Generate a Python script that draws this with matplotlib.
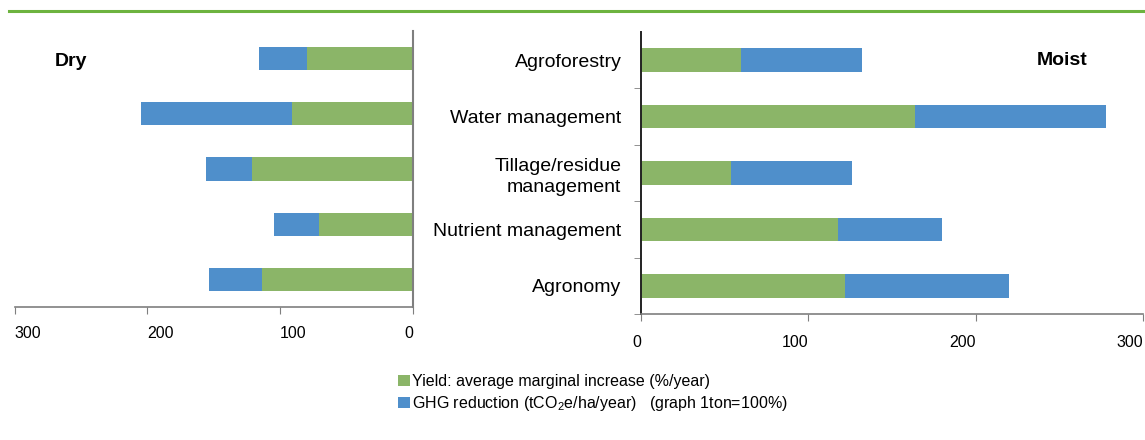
import numpy as np
import matplotlib
matplotlib.use("Agg")
import matplotlib.pyplot as plt
from matplotlib.patches import Patch
from matplotlib.lines import Line2D

plt.rcParams['font.family'] = ['Liberation Sans', 'DejaVu Sans']
plt.rcParams['mathtext.fontset'] = 'custom'
plt.rcParams['mathtext.rm'] = 'Liberation Sans'
plt.rcParams['mathtext.it'] = 'Liberation Sans:italic'

# data, top to bottom
practices = ['Agroforestry', 'Water management', 'Tillage/residue\nmanagement',
             'Nutrient management', 'Agronomy']
dry_yield = [80, 91, 121, 71, 114]
dry_ghg = [36, 114, 35, 34, 40]
moist_yield = [60, 164, 54, 118, 122]
moist_ghg = [72, 114, 72, 62, 98]
xticks = [0, 100, 200, 300]

green = '#8BB568'
blue = '#4F8FCB'
spine_c = '#7f7f7f'

fig = plt.figure(figsize=(11.45, 4.4), dpi=100)

# green rule along the top
fig.add_artist(Line2D([9 / 1145, 1.0], [1 - 11.5 / 440, 1 - 11.5 / 440],
                      color='#6DB33F', lw=2.2, transform=fig.transFigure))

y = np.arange(len(practices))
bh = 0.42

# dry panel (mirrored)
axl = fig.add_axes((14.7 / 1145, 1 - 307 / 440, 398.3 / 1145, 276 / 440))
axl.barh(y, dry_yield, height=bh, color=green)
axl.barh(y, dry_ghg, left=dry_yield, height=bh, color=blue)
axl.set_xlim(300, 0)
axl.set_ylim(4.5, -0.5)
axl.set_xticks(xticks)
axl.set_yticks([])
for s in ['top', 'left']:
    axl.spines[s].set_visible(False)
axl.spines['right'].set_color(spine_c)
axl.spines['right'].set_linewidth(1.5)
axl.spines['bottom'].set_color(spine_c)
axl.spines['bottom'].set_linewidth(1.2)
axl.tick_params(axis='x', direction='out', length=5, color=spine_c,
                labelsize=11.5, pad=9)
for lab in axl.get_xticklabels():
    lab.set_ha('right' if lab.get_text() == '0' else 'left')
axl.text(40 / 398, 1 - (61 - 31) / 276, 'Dry', transform=axl.transAxes,
         fontsize=14, fontweight='bold', va='center', ha='left')

# moist panel
axr = fig.add_axes((641 / 1145, 1 - 314 / 440, 502 / 1145, 282 / 440))
axr.barh(y, moist_yield, height=bh, color=green)
axr.barh(y, moist_ghg, left=moist_yield, height=bh, color=blue)
axr.set_xlim(0, 300)
axr.set_ylim(4.5, -0.5)
axr.set_xticks(xticks)
axr.set_yticks(y)
axr.set_yticklabels(practices, fontsize=14, linespacing=1.3)
axr.set_yticks(np.arange(0.5, 5, 1), minor=True)
for s in ['top', 'right']:
    axr.spines[s].set_visible(False)
axr.spines['left'].set_color('#222222')
axr.spines['left'].set_linewidth(1.4)
axr.spines['bottom'].set_color(spine_c)
axr.spines['bottom'].set_linewidth(1.2)
axr.tick_params(axis='y', which='major', length=0, pad=14)
axr.tick_params(axis='y', which='minor', length=5, color=spine_c, direction='out')
axr.tick_params(axis='x', direction='out', length=5, color=spine_c,
                labelsize=11.5, pad=10)
for lab in axr.get_xticklabels():
    lab.set_ha('right')
axr.text((1062 - 641) / 502, 1 - (60 - 32) / 282, 'Moist', transform=axr.transAxes,
         fontsize=14, fontweight='bold', va='center', ha='center')

handles = [Patch(facecolor=green), Patch(facecolor=blue)]
labels = ['Yield: average marginal increase (%/year)',
          'GHG reduction (tCO$_2$e/ha/year)   (graph 1ton=100%)']
fig.legend(handles, labels, loc='upper left',
           bbox_to_anchor=(398 / 1145, 1 - 374 / 440), frameon=False,
           fontsize=11.5, handlelength=0.75, handleheight=0.65, handletextpad=0.15,
           labelspacing=0.3, borderpad=0, borderaxespad=0)

fig.savefig('out.png', dpi=100)
